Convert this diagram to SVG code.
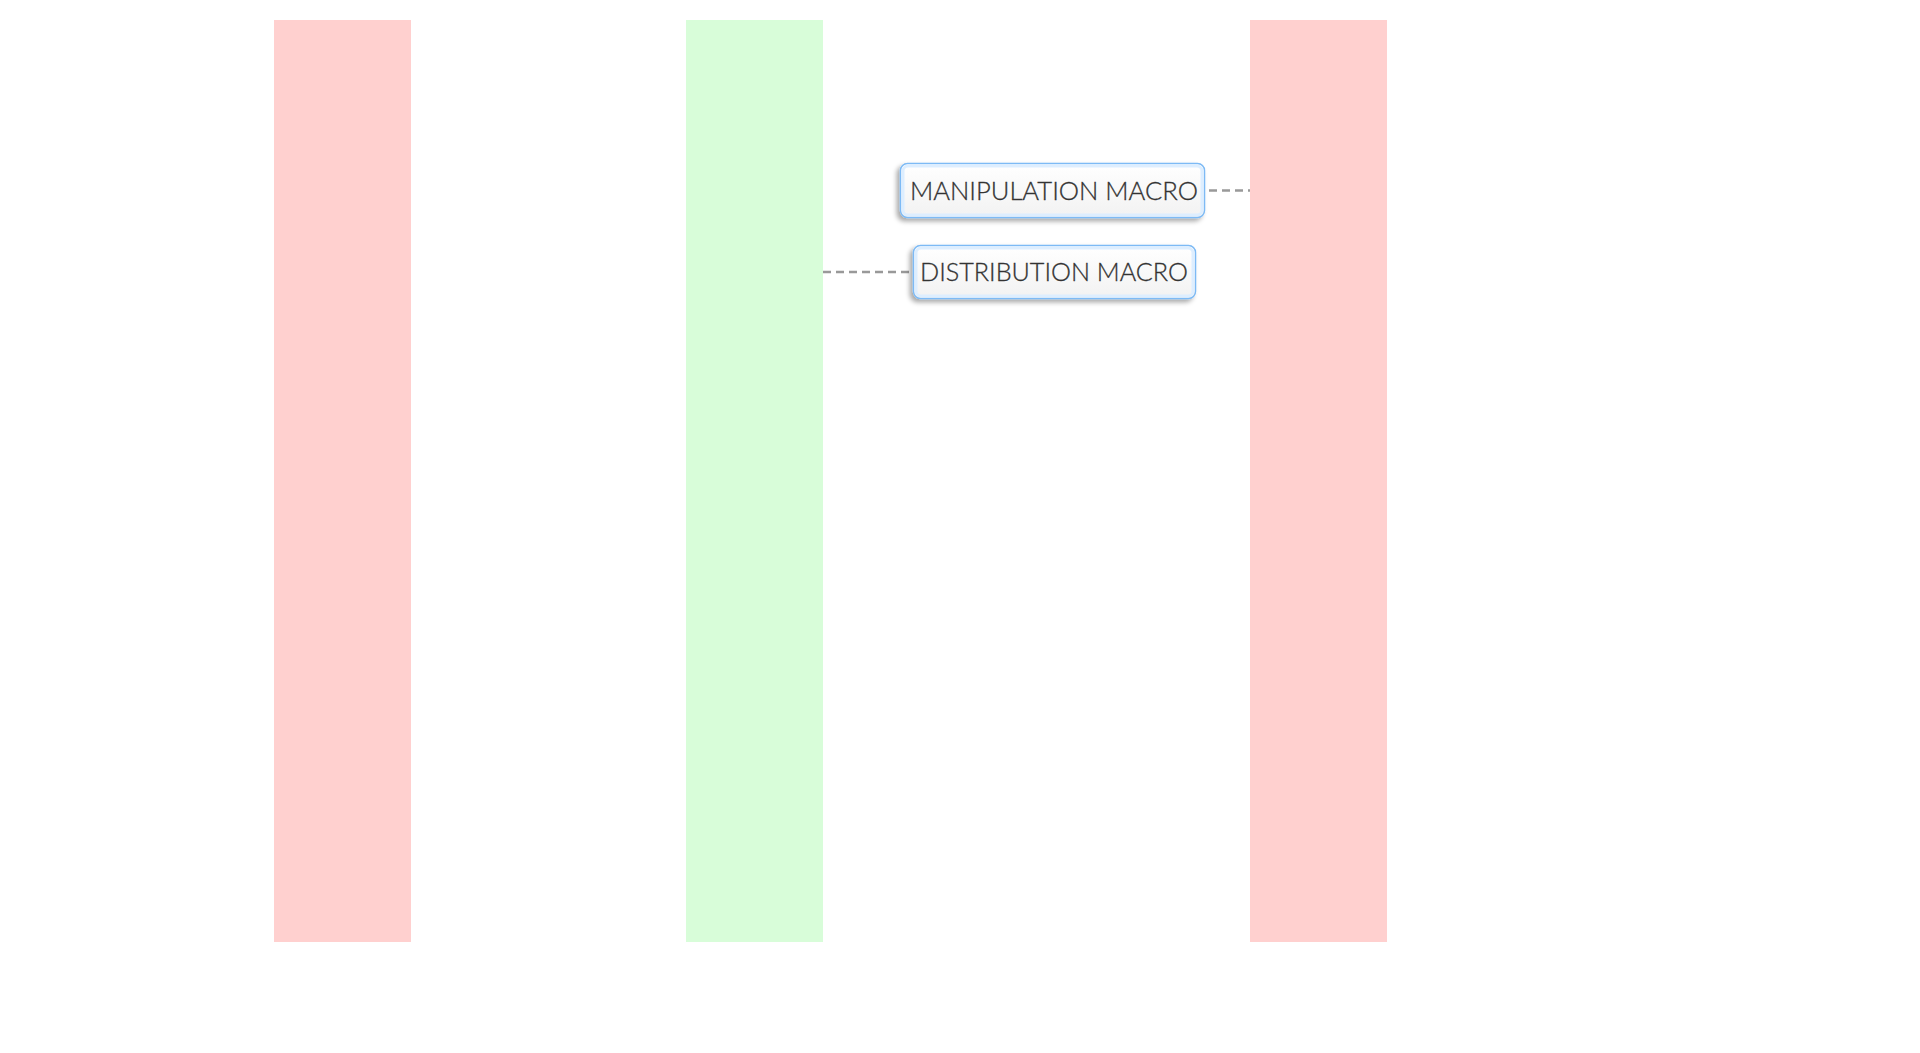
<svg xmlns="http://www.w3.org/2000/svg" width="1920" height="1053" viewBox="0 0 1920 1053">
  <defs>
    <filter id="shadow" x="-10%" y="-30%" width="120%" height="170%">
      <feGaussianBlur in="SourceAlpha" stdDeviation="2.5"/>
      <feOffset dx="-3" dy="3" result="b"/>
      <feComponentTransfer><feFuncA type="linear" slope="0.35"/></feComponentTransfer>
      <feMerge><feMergeNode/><feMergeNode in="SourceGraphic"/></feMerge>
    </filter>
    <linearGradient id="boxfill" x1="0" y1="0" x2="0" y2="1">
      <stop offset="0" stop-color="#ffffff"/>
      <stop offset="1" stop-color="#f2f2f2"/>
    </linearGradient>
  </defs>
  <style>
    .red { fill: #ffd0cf; }
    .green { fill: #d8fdd9; }
    .box { fill: url(#boxfill); stroke: #7dbaf5; stroke-width: 1.5; filter: url(#shadow); }
    .inner { fill: none; stroke: #ddeeff; stroke-width: 3; }
    .label { font-family: Lato, "Liberation Sans", sans-serif; font-weight: 300; font-size: 25px; fill: #333333; stroke: #333333; stroke-width: 0.3; }
    .conn { stroke: #999999; stroke-width: 2.5; stroke-dasharray: 8 5; fill: none; }
  </style>
  <rect width="1920" height="1053" fill="#ffffff"/>
  <g id="lane-left"><rect class="red" x="274" y="20" width="137" height="922"/></g>
  <g id="lane-middle"><rect class="green" x="686" y="20" width="137" height="922"/></g>
  <g id="lane-right"><rect class="red" x="1250" y="20" width="137" height="922"/></g>
  <g id="connectors">
    <line class="conn" x1="1209" y1="190.5" x2="1250" y2="190.5"/>
    <line class="conn" x1="823" y1="272" x2="911" y2="272"/>
  </g>
  <g id="node-manipulation">
    <rect class="box" x="900.5" y="163.5" width="304" height="54" rx="7"/>
    <rect class="inner" x="903" y="166" width="299" height="49" rx="5"/>
    <text class="label" x="910" y="200" textLength="288" lengthAdjust="spacingAndGlyphs">MANIPULATION MACRO</text>
  </g>
  <g id="node-distribution">
    <rect class="box" x="913.5" y="245.5" width="282" height="53" rx="7"/>
    <rect class="inner" x="916" y="248" width="277" height="48" rx="5"/>
    <text class="label" x="920" y="281" textLength="268" lengthAdjust="spacingAndGlyphs">DISTRIBUTION MACRO</text>
  </g>
</svg>
